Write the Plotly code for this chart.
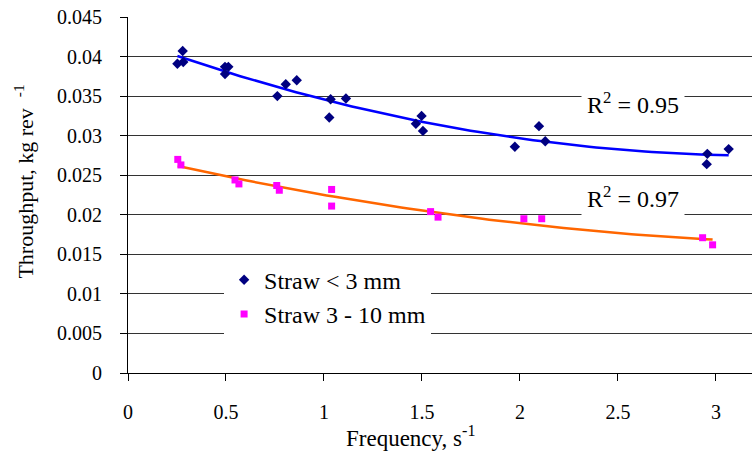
import numpy as np
import plotly.graph_objects as go

# Straw < 3 mm
freq_small = [0.252, 0.279, 0.282, 0.495, 0.512, 0.495, 0.762, 0.805, 0.861, 1.034, 1.027,
              1.112, 1.469, 1.498, 1.505, 1.974, 2.097, 2.129, 2.956, 2.953, 3.065]
thr_small = [0.0391, 0.0407, 0.0393, 0.0387, 0.0387, 0.0378, 0.0350, 0.0365, 0.0370, 0.0346, 0.0323,
             0.0347, 0.0315, 0.0325, 0.0306, 0.0286, 0.0312, 0.0293, 0.0277, 0.0264, 0.0283]

# Straw 3 - 10 mm
freq_large = [0.254, 0.270, 0.546, 0.566, 0.759, 0.772, 1.039, 1.039, 1.544, 1.582,
              2.020, 2.111, 2.932, 2.983]
thr_large = [0.0270, 0.0263, 0.0244, 0.0239, 0.0237, 0.0231, 0.0232, 0.0211, 0.0204, 0.0197,
             0.0195, 0.0195, 0.0171, 0.0162]

series_names = ["Straw < 3 mm", "Straw 3 - 10 mm"]
r2_labels = ["R<sup>2</sup> = 0.95", "R<sup>2</sup> = 0.97"]

y_tick_vals = [0, 0.005, 0.01, 0.015, 0.02, 0.025, 0.03, 0.035, 0.04, 0.045]
y_tick_text = ["0", "0.005", "0.01", "0.015", "0.02", "0.025", "0.03", "0.035", "0.04", "0.045"]
x_tick_vals = [0, 0.5, 1, 1.5, 2, 2.5, 3]
x_tick_text = ["0", "0.5", "1", "1.5", "2", "2.5", "3"]

FONT = "Liberation Serif"


def trend(xv, yv):
    c = np.polyfit(xv, yv, 2)
    xs = np.linspace(min(xv), max(xv), 80)
    return xs, np.polyval(c, xs)


fig = go.Figure()

xs1, ys1 = trend(freq_small, thr_small)
xs2, ys2 = trend(freq_large, thr_large)

fig.add_trace(go.Scatter(x=xs1, y=ys1, mode="lines", line=dict(color="#0000FF", width=2.5),
                         showlegend=False, hoverinfo="skip"))
fig.add_trace(go.Scatter(x=xs2, y=ys2, mode="lines", line=dict(color="#FF6600", width=2.5),
                         showlegend=False, hoverinfo="skip"))

fig.add_trace(go.Scatter(x=freq_small, y=thr_small, mode="markers", name=series_names[0],
                         legendgroup="a",
                         marker=dict(symbol="diamond", size=8, color="#000080")))
fig.add_trace(go.Scatter(x=freq_large, y=thr_large, mode="markers", name=series_names[1],
                         legendgroup="b",
                         marker=dict(symbol="square", size=7, color="#FF00FF")))

fig.update_layout(
    width=752, height=451,
    margin=dict(l=128, r=0, t=17, b=78),
    plot_bgcolor="white", paper_bgcolor="white",
    font=dict(family=FONT, size=20, color="black"),
    showlegend=True,
    legend=dict(x=0.154, y=0.324, xanchor="left", yanchor="top",
                bgcolor="white", borderwidth=0,
                font=dict(family=FONT, size=24, color="black"),
                tracegroupgap=0, traceorder="grouped"),
    xaxis=dict(range=[0, 3.184], tickvals=x_tick_vals, ticktext=x_tick_text,
               showgrid=False, zeroline=False, showline=True, linecolor="black", linewidth=1,
               ticks="outside", ticklen=7, tickcolor="black", ticklabelstandoff=14,
               tickfont=dict(family=FONT, size=20)),
    yaxis=dict(range=[0, 0.045], tickvals=y_tick_vals, ticktext=y_tick_text,
               showgrid=True, gridcolor="#333333", gridwidth=1, zeroline=False,
               showline=True, linecolor="black", linewidth=1,
               ticks="outside", ticklen=7, tickcolor="black", ticklabelstandoff=14,
               tickfont=dict(family=FONT, size=20)),
    annotations=[
        dict(x=2.577, y=0.03407, xref="x", yref="y", text=r2_labels[0], showarrow=False,
             font=dict(family=FONT, size=24), bgcolor="white", borderpad=5),
        dict(x=2.577, y=0.0223, xref="x", yref="y", text=r2_labels[1], showarrow=False,
             font=dict(family=FONT, size=24), bgcolor="white", borderpad=5),
        dict(x=0.452, y=-0.178, xref="paper", yref="paper", text="Frequency, s<sup>-1</sup>",
             showarrow=False, xanchor="center", yanchor="middle",
             font=dict(family=FONT, size=23)),
        dict(x=-0.167, y=0.537, xref="paper", yref="paper",
             text="Throughput, kg rev\u00a0\u00a0<sup>-1</sup>",
             showarrow=False, textangle=-90, xanchor="center", yanchor="middle",
             font=dict(family=FONT, size=22)),
    ],
)

fig.write_html("out.html")
